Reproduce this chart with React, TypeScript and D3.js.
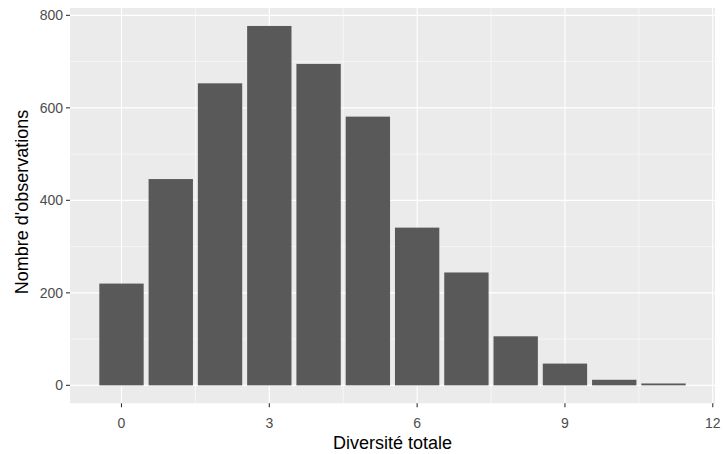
import React from "react";
import * as d3 from "d3";

const categories = [0, 1, 2, 3, 4, 5, 6, 7, 8, 9, 10, 11];
const counts = [220, 446, 653, 777, 695, 581, 341, 244, 106, 47, 12, 4];
const xTicks = [0, 3, 6, 9, 12];
const xMinor = [-1.5, 1.5, 4.5, 7.5, 10.5];
const yTicks = [0, 200, 400, 600, 800];
const yMinor = [100, 300, 500, 700];

const W = 723, H = 454;
const panel = { left: 70, right: 715, top: 8, bottom: 403.3 };

export default function App() {
  const barW = 0.9;
  const xmin = categories[0] - barW / 2, xmax = categories[categories.length - 1] + barW / 2;
  const xr = xmax - xmin;
  const x = d3.scaleLinear().domain([xmin - 0.05 * xr, xmax + 0.05 * xr]).range([panel.left, panel.right]);
  const ymax = d3.max(counts)!;
  const y = d3.scaleLinear().domain([-0.05 * ymax, ymax * 1.05]).range([panel.bottom, panel.top]);
  const font = "'Liberation Sans', Arial, sans-serif";
  const inX = (v: number) => x(v) >= panel.left && x(v) <= panel.right;
  return (
    <svg width={W} height={H} style={{ position: "absolute", left: 0, top: 0, background: "#fff" }} fontFamily={font}>
      <rect x={panel.left} y={panel.top} width={panel.right - panel.left} height={panel.bottom - panel.top} fill="#EBEBEB" />
      {yMinor.map((v) => (
        <line key={"ym" + v} x1={panel.left} x2={panel.right} y1={y(v)} y2={y(v)} stroke="#fff" strokeWidth={0.55} />
      ))}
      {xMinor.filter(inX).map((v) => (
        <line key={"xm" + v} y1={panel.top} y2={panel.bottom} x1={x(v)} x2={x(v)} stroke="#fff" strokeWidth={0.55} />
      ))}
      {yTicks.map((v) => (
        <line key={"yM" + v} x1={panel.left} x2={panel.right} y1={y(v)} y2={y(v)} stroke="#fff" strokeWidth={1.1} />
      ))}
      {xTicks.map((v) => (
        <line key={"xM" + v} y1={panel.top} y2={panel.bottom} x1={x(v)} x2={x(v)} stroke="#fff" strokeWidth={1.1} />
      ))}
      {categories.map((c, i) => (
        <rect key={c} x={x(c - barW / 2)} width={x(c + barW / 2) - x(c - barW / 2)} y={y(counts[i])} height={y(0) - y(counts[i])} fill="#595959" />
      ))}
      {yTicks.map((v) => (
        <g key={"yt" + v}>
          <line x1={panel.left - 4} x2={panel.left} y1={y(v)} y2={y(v)} stroke="#333" strokeWidth={1.1} />
          <text x={panel.left - 7} y={y(v)} dy="0.36em" textAnchor="end" fontSize={14} fill="#4D4D4D">{v}</text>
        </g>
      ))}
      {xTicks.map((v) => (
        <g key={"xt" + v}>
          <line y1={panel.bottom} y2={panel.bottom + 4} x1={x(v)} x2={x(v)} stroke="#333" strokeWidth={1.1} />
          <text x={x(v)} y={428} textAnchor="middle" fontSize={14} fill="#4D4D4D">{v}</text>
        </g>
      ))}
      <text x={(panel.left + panel.right) / 2} y={449} textAnchor="middle" fontSize={18} fill="#000">Diversité totale</text>
      <text transform={`translate(28,202) rotate(-90)`} textAnchor="middle" fontSize={18} fill="#000">Nombre d'observations</text>
    </svg>
  );
}
